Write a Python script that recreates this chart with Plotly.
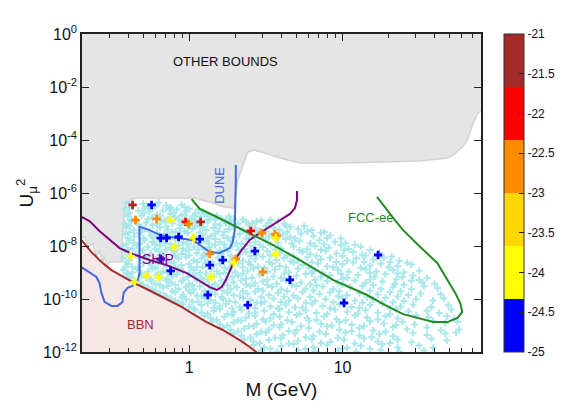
import numpy as np
import plotly.graph_objects as go

# ---------------- data (log10 M [GeV], log10 U^2) ----------------
gray_logM = [-0.75, 1.95, 1.95, 1.905, 1.879, 1.853, 1.814, 1.781, 1.722, 1.683, 1.507, 1.212, 0.984, 0.722,
             0.592, 0.493, 0.422, 0.382, 0.350, 0.317, 0.304, 0.291, 0.232, 0.154, 0.036, -0.324, -0.376,
             -0.408, -0.422, -0.435, -0.441, -0.520, -0.539, -0.552, -0.565, -0.585, -0.605, -0.631, -0.657,
             -0.683, -0.75]
gray_logU = [0.5, 0.5, -2.90, -2.90, -3.02, -3.36, -4.00, -4.26, -4.57, -4.68, -4.79, -4.83, -4.87, -4.87,
             -4.68, -4.49, -4.38, -4.45, -4.94, -5.51, -6.08, -6.57, -6.53, -6.38, -6.19, -6.19, -6.23,
             -6.42, -6.64, -7.58, -8.60, -8.60, -8.83, -8.34, -8.64, -8.15, -8.42, -7.89, -8.04,
             -7.66, -7.75]

bbn_logM = [-0.75, -0.703, -0.637, -0.572, -0.507, -0.441, -0.356, -0.265, -0.160, -0.049, 0.016, 0.114,
            0.219, 0.330, 0.395, 0.448, 0.47]
bbn_logU = [-7.60, -7.77, -8.23, -8.60, -8.91, -9.13, -9.40, -9.66, -9.96, -10.30, -10.53, -10.87,
            -11.17, -11.55, -11.81, -12.04, -12.15]

dune_logM = [-0.75, -0.703, -0.670, -0.605, -0.585, -0.572, -0.552, -0.507, -0.467, -0.435, -0.428, -0.402,
             -0.356, -0.337, -0.324, -0.324, -0.258, -0.193, -0.082, 0.023, 0.088, 0.134, 0.199, 0.265,
             0.284, 0.297, 0.304, 0.304]
dune_logU = [-8.62, -8.79, -8.91, -9.17, -9.40, -9.77, -10.11, -10.26, -10.26, -10.11, -9.77, -9.58,
             -9.47, -9.36, -9.02, -7.28, -7.40, -7.58, -7.70, -7.77, -8.04, -8.23, -8.26, -8.08,
             -7.85, -7.40, -5.51, -4.94]

ship_logM = [-0.75, -0.703, -0.650, -0.585, -0.520, -0.454, -0.369, -0.258, -0.147, -0.016, 0.069, 0.134,
             0.180, 0.212, 0.239, 0.265, 0.297, 0.343, 0.395, 0.461, 0.526, 0.611, 0.657, 0.690, 0.703, 0.703]
ship_logU = [-6.75, -6.91, -7.06, -7.43, -7.77, -8.08, -8.30, -8.53, -8.72, -9.02, -9.32, -9.55,
             -9.66, -9.55, -9.28, -8.91, -8.53, -8.15, -7.77, -7.51, -7.28, -6.98, -6.79, -6.57, -6.26, -5.92]

fcc_logM = [0.016, 0.069, 0.154, 0.284, 0.415, 0.546, 0.722, 0.938, 1.160, 1.278, 1.395, 1.507, 1.592,
            1.683, 1.748, 1.781, 1.768, 1.735, 1.683, 1.618, 1.507, 1.395, 1.330, 1.278, 1.225]
fcc_logU = [-6.23, -6.60, -6.83, -7.21, -7.58, -7.96, -8.53, -9.28, -9.85, -10.23, -10.57, -10.75, -10.87,
            -10.87, -10.72, -10.49, -10.15, -9.77, -9.28, -8.64, -8.04, -7.40, -6.94, -6.53, -6.15]

# coloured benchmark points: log10 M, log10 U^2, colour value
col_logM = [-0.369, -0.245, -0.350, -0.212, -0.121, -0.023, -0.003, 0.075, -0.186, -0.147, -0.069, 0.029,
            0.069, -0.095, -0.382, -0.186, -0.121, -0.278, -0.199, -0.356, 0.134, 0.219, 0.134, 0.304,
            0.291, 0.141, 0.121, 0.382, 0.402, 0.474, 0.559, 0.572, 0.565, 0.428, 0.565, 0.480, 0.657,
            1.232, 1.010]
col_logU = [-6.45, -6.45, -7.02, -6.98, -7.02, -7.09, -7.17, -7.09, -7.70, -7.70, -7.66, -7.70,
            -7.74, -8.04, -8.38, -8.49, -8.94, -9.13, -9.17, -9.36, -8.30, -8.53, -8.72, -8.49,
            -8.64, -9.17, -9.85, -10.23, -7.43, -7.51, -7.55, -7.62, -7.70, -8.19, -8.30, -8.98, -9.28,
            -8.34, -10.15]
col_val = [-21.3, -24.7, -22.7, -22.7, -24.0, -22.0, -22.7, -21.3, -24.7, -24.7, -24.7, -24.0,
           -24.7, -24.0, -24.0, -24.7, -24.7, -24.0, -24.0, -24.0, -22.7, -24.7, -24.7, -22.7,
           -24.0, -24.0, -24.7, -24.7, -22.0, -22.7, -22.7, -22.7, -24.0, -24.7, -24.0, -22.7, -24.7,
           -24.7, -24.7]

# scan points (cyan): (log10 M, log10 U^2)
cloud_pts = [
 (-0.41,-6.38),(-0.37,-6.50),(-0.30,-6.41),(-0.27,-6.52),(-0.20,-6.36),(-0.15,-6.47),(-0.12,-6.55),(-0.05,-6.44),(0.00,-6.60),
 (-0.42,-6.62),(-0.39,-6.74),(-0.33,-6.66),(-0.26,-6.71),(-0.24,-6.58),(-0.17,-6.67),(-0.10,-6.75),(-0.08,-6.62),(-0.02,-6.69),(0.04,-6.78),(0.09,-6.70),(0.13,-6.86),
 (-0.40,-6.88),(-0.35,-6.98),(-0.31,-6.85),(-0.24,-6.93),(-0.19,-6.87),(-0.14,-7.00),(-0.09,-6.91),(-0.03,-6.84),(0.01,-6.97),(0.07,-6.90),(0.12,-7.01),(0.14,-6.93),(0.21,-6.96),(0.24,-7.04),(0.29,-6.98),
 (-0.42,-7.15),(-0.38,-7.08),(-0.33,-7.20),(-0.28,-7.11),(-0.21,-7.17),(-0.18,-7.07),(-0.11,-7.14),(-0.06,-7.21),(-0.04,-7.09),(0.04,-7.13),(0.07,-7.22),(0.12,-7.10),(0.17,-7.18),(0.24,-7.13),(0.27,-7.05),(0.32,-7.17),(0.37,-7.08),(0.41,-7.15),(0.47,-7.03),(0.52,-7.12),(0.58,-7.07),(0.62,-7.16),
 (-0.41,-7.31),(-0.36,-7.41),(-0.29,-7.34),(-0.26,-7.44),(-0.19,-7.30),(-0.14,-7.38),(-0.09,-7.45),(-0.06,-7.33),(0.02,-7.36),(0.04,-7.27),(0.11,-7.41),(0.16,-7.32),(0.19,-7.44),(0.26,-7.37),(0.30,-7.28),(0.35,-7.40),(0.43,-7.33),(0.46,-7.43),(0.55,-7.30),(0.59,-7.39),(0.66,-7.27),(0.71,-7.36),(0.80,-7.41),
 (-0.42,-7.55),(-0.36,-7.64),(-0.33,-7.52),(-0.25,-7.60),(-0.23,-7.68),(-0.16,-7.56),(-0.13,-7.65),(-0.06,-7.59),(-0.01,-7.50),(0.03,-7.66),(0.09,-7.57),(0.14,-7.63),(0.17,-7.53),(0.22,-7.60),(0.29,-7.66),(0.33,-7.55),(0.41,-7.61),(0.45,-7.51),(0.52,-7.64),(0.61,-7.57),(0.66,-7.67),(0.73,-7.53),(0.81,-7.62),(0.86,-7.50),(0.92,-7.60),
 (-0.39,-7.78),(-0.36,-7.88),(-0.29,-7.76),(-0.24,-7.85),(-0.19,-7.81),(-0.16,-7.90),(-0.09,-7.75),(-0.04,-7.86),(0.01,-7.79),(0.06,-7.89),(0.10,-7.82),(0.17,-7.74),(0.20,-7.85),(0.27,-7.80),(0.31,-7.90),(0.39,-7.75),(0.43,-7.84),(0.50,-7.78),(0.58,-7.88),(0.63,-7.74),(0.72,-7.82),(0.79,-7.91),(0.85,-7.78),(0.95,-7.84),(1.02,-7.90),
 (-0.43,-8.00),(-0.37,-8.09),(-0.34,-7.97),(-0.27,-8.03),(-0.22,-8.11),(-0.19,-7.99),(-0.12,-8.06),(-0.07,-7.98),(-0.04,-8.10),(0.03,-8.02),(0.06,-8.12),(0.13,-8.04),(0.17,-7.96),(0.24,-8.08),(0.28,-8.00),(0.36,-8.11),(0.40,-7.98),(0.48,-8.05),(0.53,-7.96),(0.60,-8.09),(0.68,-8.02),(0.77,-8.12),(0.82,-7.99),(0.91,-8.07),(0.99,-7.97),(1.04,-8.10),(1.12,-8.03),
 (-0.42,-8.22),(-0.35,-8.31),(-0.32,-8.20),(-0.25,-8.28),(-0.20,-8.19),(-0.17,-8.33),(-0.10,-8.24),(-0.05,-8.30),(-0.02,-8.18),(0.05,-8.26),(0.09,-8.34),(0.14,-8.22),(0.21,-8.29),(0.25,-8.19),(0.33,-8.31),(0.37,-8.23),(0.44,-8.33),(0.51,-8.20),(0.59,-8.27),(0.64,-8.35),(0.74,-8.22),(0.79,-8.31),(0.89,-8.18),(0.96,-8.28),(1.07,-8.24),(1.13,-8.33),(1.24,-8.26),
 (-0.43,-8.45),(-0.39,-8.55),(-0.32,-8.47),(-0.29,-8.40),(-0.22,-8.52),(-0.17,-8.44),(-0.14,-8.56),(-0.07,-8.48),(-0.02,-8.41),(0.03,-8.54),(0.08,-8.46),(0.12,-8.57),(0.19,-8.43),(0.23,-8.51),(0.31,-8.44),(0.35,-8.55),(0.43,-8.49),(0.48,-8.41),(0.57,-8.53),(0.62,-8.45),(0.71,-8.56),(0.77,-8.42),(0.86,-8.50),(0.92,-8.43),(1.03,-8.55),(1.09,-8.46),(1.20,-8.52),(1.27,-8.43),(1.37,-8.56),
 (-0.40,-8.68),(-0.37,-8.78),(-0.30,-8.65),(-0.25,-8.74),(-0.20,-8.66),(-0.15,-8.77),(-0.12,-8.63),(-0.05,-8.72),(0.00,-8.68),(0.05,-8.79),(0.11,-8.64),(0.16,-8.73),(0.20,-8.66),(0.28,-8.76),(0.32,-8.65),(0.40,-8.71),(0.45,-8.78),(0.54,-8.67),(0.59,-8.75),(0.68,-8.63),(0.74,-8.72),(0.84,-8.66),(0.90,-8.77),(1.00,-8.69),(1.07,-8.62),(1.18,-8.74),(1.25,-8.67),(1.36,-8.75),(1.45,-8.70),
 (-0.43,-8.90),(-0.37,-8.99),(-0.34,-8.87),(-0.27,-8.96),(-0.24,-8.86),(-0.17,-8.93),(-0.14,-9.00),(-0.07,-8.88),(-0.04,-8.97),(0.03,-8.91),(0.07,-9.01),(0.14,-8.87),(0.18,-8.95),(0.26,-8.89),(0.30,-8.99),(0.38,-8.92),(0.42,-8.85),(0.51,-8.97),(0.56,-8.89),(0.65,-8.99),(0.71,-8.86),(0.81,-8.94),(0.87,-9.01),(0.97,-8.90),(1.04,-8.97),(1.15,-8.88),(1.22,-8.96),(1.33,-8.91),(1.40,-8.99),(1.50,-8.93),
 (-0.41,-9.08),(-0.38,-9.16),(-0.31,-9.12),(-0.28,-9.20),(-0.21,-9.09),(-0.18,-9.19),(-0.11,-9.13),(-0.08,-9.06),(-0.01,-9.17),(0.04,-9.10),(0.08,-9.21),(0.16,-9.14),(0.20,-9.07),(0.28,-9.18),(0.32,-9.11),(0.41,-9.20),(0.46,-9.08),(0.55,-9.15),(0.60,-9.22),(0.70,-9.12),(0.76,-9.06),(0.86,-9.18),(0.92,-9.10),(1.03,-9.19),(1.10,-9.09),(1.21,-9.16),(1.28,-9.07),(1.39,-9.17),(1.46,-9.11),(1.55,-9.20),
 (-0.35,-9.32),(-0.32,-9.40),(-0.25,-9.34),(-0.22,-9.42),(-0.15,-9.30),(-0.12,-9.39),(-0.05,-9.33),(0.00,-9.42),(0.05,-9.29),(0.09,-9.37),(0.17,-9.43),(0.21,-9.31),(0.29,-9.38),(0.34,-9.30),(0.43,-9.41),(0.48,-9.34),(0.57,-9.42),(0.63,-9.29),(0.73,-9.38),(0.79,-9.44),(0.90,-9.32),(0.97,-9.40),(1.08,-9.30),(1.15,-9.39),(1.26,-9.34),(1.34,-9.43),(1.45,-9.31),(1.52,-9.38),(1.60,-9.42),
 (-0.27,-9.55),(-0.24,-9.63),(-0.17,-9.57),(-0.14,-9.51),(-0.07,-9.62),(-0.02,-9.54),(0.03,-9.64),(0.07,-9.52),(0.15,-9.60),(0.19,-9.53),(0.27,-9.63),(0.31,-9.56),(0.40,-9.50),(0.45,-9.62),(0.54,-9.55),(0.60,-9.64),(0.70,-9.51),(0.76,-9.60),(0.87,-9.53),(0.94,-9.63),(1.05,-9.56),(1.13,-9.50),(1.25,-9.61),(1.33,-9.54),(1.45,-9.63),(1.53,-9.52),(1.62,-9.59),
 (-0.19,-9.78),(-0.16,-9.87),(-0.09,-9.75),(-0.04,-9.84),(0.01,-9.77),(0.05,-9.88),(0.13,-9.74),(0.17,-9.82),(0.25,-9.76),(0.29,-9.86),(0.38,-9.79),(0.43,-9.73),(0.52,-9.85),(0.58,-9.77),(0.68,-9.87),(0.74,-9.74),(0.85,-9.81),(0.92,-9.75),(1.03,-9.86),(1.11,-9.78),(1.23,-9.83),(1.31,-9.74),(1.43,-9.85),(1.51,-9.79),(1.64,-9.82),
 (-0.12,-9.98),(-0.09,-10.07),(-0.02,-10.01),(0.02,-10.09),(0.10,-9.97),(0.14,-10.05),(0.22,-10.00),(0.26,-10.08),(0.35,-9.96),(0.40,-10.04),(0.49,-10.10),(0.55,-9.98),(0.65,-10.06),(0.71,-9.97),(0.82,-10.08),(0.89,-10.01),(1.00,-9.95),(1.08,-10.07),(1.20,-10.02),(1.28,-9.96),(1.40,-10.08),(1.48,-10.00),(1.59,-10.06),(1.66,-9.98),
 (-0.04,-10.20),(0.00,-10.29),(0.08,-10.23),(0.12,-10.17),(0.20,-10.27),(0.24,-10.19),(0.33,-10.30),(0.38,-10.22),(0.47,-10.16),(0.53,-10.28),(0.63,-10.21),(0.69,-10.31),(0.80,-10.18),(0.87,-10.26),(0.98,-10.20),(1.06,-10.30),(1.18,-10.23),(1.26,-10.17),(1.38,-10.28),(1.46,-10.21),(1.58,-10.30),(1.69,-10.24),
 (0.04,-10.42),(0.08,-10.51),(0.16,-10.45),(0.20,-10.38),(0.29,-10.49),(0.34,-10.41),(0.43,-10.52),(0.49,-10.44),(0.59,-10.38),(0.65,-10.50),(0.76,-10.43),(0.83,-10.53),(0.95,-10.40),(1.03,-10.48),(1.15,-10.42),(1.23,-10.52),(1.35,-10.39),(1.43,-10.47),(1.55,-10.44),(1.63,-10.53),(1.71,-10.41),
 (0.10,-10.64),(0.14,-10.73),(0.23,-10.67),(0.28,-10.60),(0.37,-10.71),(0.43,-10.63),(0.53,-10.74),(0.59,-10.66),(0.70,-10.60),(0.77,-10.72),(0.88,-10.65),(0.96,-10.75),(1.08,-10.62),(1.16,-10.70),(1.28,-10.64),(1.36,-10.74),(1.48,-10.61),(1.56,-10.69),(1.68,-10.65),(1.73,-10.74),
 (0.15,-10.86),(0.20,-10.95),(0.29,-10.89),(0.34,-10.82),(0.44,-10.93),(0.50,-10.85),(0.60,-10.96),(0.67,-10.88),(0.78,-10.82),(0.86,-10.94),(0.98,-10.87),(1.06,-10.97),(1.18,-10.84),(1.27,-10.92),(1.39,-10.86),(1.47,-10.96),(1.59,-10.83),(1.67,-10.91),(1.75,-10.86),
 (0.22,-11.08),(0.27,-11.17),(0.36,-11.11),(0.42,-11.04),(0.52,-11.15),(0.59,-11.07),(0.70,-11.18),(0.78,-11.10),(0.90,-11.04),(0.98,-11.16),(1.11,-11.09),(1.20,-11.19),(1.33,-11.06),(1.42,-11.14),(1.55,-11.08),(1.64,-11.18),(1.76,-11.15),
 (0.29,-11.30),(0.34,-11.39),(0.44,-11.33),(0.50,-11.26),(0.61,-11.37),(0.69,-11.29),(0.81,-11.40),(0.89,-11.32),(1.02,-11.26),(1.11,-11.38),(1.24,-11.31),(1.33,-11.41),(1.46,-11.28),(1.55,-11.36),(1.67,-11.30),(1.74,-11.26),
 (0.36,-11.52),(0.42,-11.61),(0.52,-11.55),(0.60,-11.48),(0.71,-11.59),(0.80,-11.51),(0.92,-11.62),(1.01,-11.54),(1.14,-11.48),(1.23,-11.60),(1.36,-11.53),(1.45,-11.63),(1.58,-11.50),(1.68,-11.57),
 (0.42,-11.74),(0.49,-11.83),(0.60,-11.77),(0.68,-11.70),(0.81,-11.81),(0.90,-11.73),(1.03,-11.84),(1.12,-11.76),(1.26,-11.70),(1.36,-11.82),(1.50,-11.75),(1.59,-11.84),
 (0.47,-11.95),(0.57,-11.99),(0.71,-11.93),(0.82,-11.98),(0.97,-11.94),(1.09,-11.99),(1.25,-11.93),(1.37,-11.98),(1.53,-11.94),
 # in-between scan points
 (-0.39,-6.55),(-0.29,-6.58),(-0.22,-6.50),(-0.13,-6.60),(-0.03,-6.53),(0.06,-6.62),
 (-0.40,-6.80),(-0.30,-6.76),(-0.21,-6.82),(-0.12,-6.79),(-0.05,-6.83),(0.03,-6.86),(0.10,-6.80),(0.18,-6.86),(0.26,-6.88),
 (-0.38,-7.02),(-0.27,-6.99),(-0.16,-7.05),(-0.07,-7.00),(0.04,-7.04),(0.17,-7.01),(0.26,-7.10),(0.35,-7.00),(0.44,-7.08),(0.53,-7.02),
 (-0.39,-7.24),(-0.31,-7.27),(-0.24,-7.22),(-0.15,-7.26),(-0.01,-7.24),(0.09,-7.28),(0.20,-7.23),(0.29,-7.25),(0.39,-7.22),(0.50,-7.24),(0.63,-7.22),(0.75,-7.25),
 (-0.39,-7.49),(-0.31,-7.46),(-0.21,-7.50),(-0.11,-7.48),(-0.03,-7.45),(0.07,-7.49),(0.23,-7.47),(0.38,-7.48),(0.50,-7.46),(0.64,-7.47),(0.77,-7.45),(0.88,-7.47),
 (-0.40,-7.70),(-0.30,-7.72),(-0.20,-7.69),(-0.09,-7.71),(0.12,-7.72),(0.25,-7.70),(0.37,-7.72),(0.48,-7.69),(0.56,-7.71),(0.69,-7.72),(0.90,-7.70),(0.99,-7.72),
 (-0.41,-7.93),(-0.32,-7.91),(-0.22,-7.94),(-0.12,-7.92),(-0.01,-7.93),(0.13,-7.91),(0.23,-7.93),(0.34,-7.92),(0.46,-7.94),(0.67,-7.91),(0.88,-7.93),(1.08,-7.95),
 (-0.40,-8.14),(-0.30,-8.16),(-0.15,-8.13),(-0.09,-8.17),(0.00,-8.15),(0.10,-8.13),(0.20,-8.16),(0.32,-8.14),(0.44,-8.16),(0.56,-8.13),(0.72,-8.16),(0.86,-8.14),(1.01,-8.16),(1.18,-8.15),
 (-0.39,-8.37),(-0.27,-8.39),(-0.19,-8.36),(-0.09,-8.38),(0.00,-8.35),(0.10,-8.39),(0.27,-8.37),(0.40,-8.38),(0.53,-8.36),(0.68,-8.39),(0.83,-8.37),(1.00,-8.38),(1.15,-8.36),(1.32,-8.40),
 (-0.41,-8.60),(-0.26,-8.61),(-0.19,-8.58),(-0.10,-8.62),(0.05,-8.60),(0.15,-8.62),(0.27,-8.59),(0.39,-8.61),(0.52,-8.60),(0.66,-8.58),(0.80,-8.62),(0.96,-8.60),(1.14,-8.59),(1.31,-8.61),(1.42,-8.63),
 (-0.42,-8.81),(-0.33,-8.79),(-0.22,-8.83),(-0.09,-8.80),(0.01,-8.82),(0.09,-8.79),(0.23,-8.82),(0.35,-8.80),(0.49,-8.83),(0.63,-8.80),(0.78,-8.82),(0.94,-8.80),(1.12,-8.83),(1.30,-8.80),
 (-0.40,-9.02),(-0.31,-9.04),(-0.20,-9.02),(-0.10,-9.05),(0.00,-9.03),(0.11,-9.04),(0.23,-9.02),(0.35,-9.04),(0.48,-9.02),(0.62,-9.04),(0.80,-9.03),(0.99,-9.05),(1.18,-9.02),(1.36,-9.04),
 (-0.39,-9.24),(-0.25,-9.26),(-0.14,-9.24),(-0.04,-9.27),(0.12,-9.25),(0.24,-9.27),(0.37,-9.24),(0.51,-9.27),(0.66,-9.25),(0.82,-9.27),(1.00,-9.24),(1.18,-9.26),(1.35,-9.25),(1.50,-9.28),
 (-0.30,-9.46),(-0.19,-9.48),(-0.09,-9.46),(0.02,-9.48),(0.13,-9.46),(0.25,-9.48),(0.37,-9.45),(0.51,-9.47),(0.67,-9.46),(0.83,-9.48),(1.00,-9.46),(1.20,-9.47),(1.40,-9.46),
 (-0.22,-9.69),(-0.11,-9.71),(0.00,-9.68),(0.10,-9.70),(0.22,-9.68),(0.35,-9.71),(0.48,-9.69),(0.64,-9.70),(0.81,-9.68),(0.98,-9.71),(1.18,-9.69),(1.38,-9.71),
 (-0.15,-9.91),(-0.05,-9.93),(0.08,-9.90),(0.21,-9.92),(0.33,-9.90),(0.47,-9.93),(0.62,-9.91),(0.79,-9.92),(0.97,-9.90),(1.16,-9.93),(1.36,-9.91),
 (-0.07,-10.13),(0.06,-10.11),(0.17,-10.14),(0.30,-10.12),(0.44,-10.13),(0.60,-10.11),(0.76,-10.14),(0.94,-10.12),(1.13,-10.14),(1.33,-10.12),
 (0.03,-10.35),(0.16,-10.33),(0.28,-10.36),(0.43,-10.34),(0.58,-10.36),(0.74,-10.33),(0.92,-10.35),(1.11,-10.34),(1.31,-10.36),
 (0.12,-10.56),(0.25,-10.57),(0.39,-10.55),(0.55,-10.58),(0.72,-10.56),(0.90,-10.57),(1.10,-10.55),(1.31,-10.58),
 (0.18,-10.78),(0.32,-10.80),(0.48,-10.77),(0.64,-10.80),(0.83,-10.78),(1.02,-10.80),(1.23,-10.77),
 (0.25,-11.00),(0.39,-11.02),(0.55,-10.99),(0.73,-11.02),(0.93,-11.00),(1.14,-11.02),(1.35,-10.99),
 (0.32,-11.22),(0.47,-11.24),(0.65,-11.21),(0.85,-11.24),(1.06,-11.22),(1.28,-11.24),
 (0.40,-11.45),(0.56,-11.46),(0.76,-11.44),(0.97,-11.46),(1.19,-11.44),
 (0.46,-11.67),(0.65,-11.68),(0.86,-11.66),(1.08,-11.68),(1.31,-11.66),
 (0.53,-11.88),(0.76,-11.89),(1.00,-11.87),(1.18,-11.89),
]

x_major = [1, 10]
x_major_text = ["1", "10"]
x_minor = [0.2, 0.3, 0.4, 0.5, 0.6, 0.7, 0.8, 0.9, 2, 3, 4, 5, 6, 7, 8, 9, 20, 30, 40, 50, 60, 70, 80]
y_ticks = [1e0, 1e-2, 1e-4, 1e-6, 1e-8, 1e-10, 1e-12]
y_ticktext = ["10<sup>0</sup>", "10<sup>-2</sup>", "10<sup>-4</sup>", "10<sup>-6</sup>",
              "10<sup>-8</sup>", "10<sup>-10</sup>", "10<sup>-12</sup>"]
cb_ticks = [-25, -24.5, -24, -23.5, -23, -22.5, -22, -21.5, -21]
cb_ticktext = ["-25", "-24.5", "-24", "-23.5", "-23", "-22.5", "-22", "-21.5", "-21"]

# ---------------- figure ----------------
def p10(a):
    return (10.0 ** np.array(a)).tolist()

FONT = "Liberation Sans, Arial, Helvetica, sans-serif"
fig = go.Figure()

fig.add_trace(go.Scatter(x=p10(gray_logM), y=p10(gray_logU), mode="lines", fill="toself",
                         fillcolor="#e5e5e5", line=dict(color="#d2d2d2", width=1.5),
                         hoverinfo="skip", showlegend=False))

bbn_fx = bbn_logM + [0.47, -0.75]
bbn_fy = bbn_logU + [-12.5, -12.5]
fig.add_trace(go.Scatter(x=p10(bbn_fx), y=p10(bbn_fy), mode="lines", fill="toself",
                         fillcolor="#f6e7e7", line=dict(width=0), hoverinfo="skip", showlegend=False))

cm = [p[0] for p in cloud_pts]
cu = [p[1] for p in cloud_pts]
fig.add_trace(go.Scatter(x=p10(cm), y=p10(cu), mode="markers",
                         marker=dict(symbol="cross-thin", size=5, color="#a8e8ea",
                                     line=dict(width=2, color="#a8e8ea")),
                         hoverinfo="skip", showlegend=False))

for lx, ly, c in [(dune_logM, dune_logU, "#4169e1"), (ship_logM, ship_logU, "#800080"),
                  (fcc_logM, fcc_logU, "#228b22"), (bbn_logM, bbn_logU, "#a52a2a")]:
    fig.add_trace(go.Scatter(x=p10(lx), y=p10(ly), mode="lines", line=dict(color=c, width=2),
                             hoverinfo="skip", showlegend=False))

cs = [[0, "#0000ff"], [1/6, "#0000ff"], [1/6, "#ffff00"], [2/6, "#ffff00"],
      [2/6, "#ffd700"], [3/6, "#ffd700"], [3/6, "#ff8c00"], [4/6, "#ff8c00"],
      [4/6, "#ff0000"], [5/6, "#ff0000"], [5/6, "#a52a2a"], [1, "#a52a2a"]]

fig.add_trace(go.Scatter(
    x=p10(col_logM), y=p10(col_logU), mode="markers", showlegend=False, hoverinfo="skip",
    marker=dict(symbol="cross", size=7, color=col_val, colorscale=cs, cmin=-25, cmax=-21,
                line=dict(width=0), showscale=True,
                colorbar=dict(x=(496 - 74) / 399, xanchor="left", xpad=0, ypad=0,
                              y=0.5, yanchor="middle", len=1, lenmode="fraction",
                              thickness=20, outlinewidth=1, outlinecolor="#333",
                              tickvals=cb_ticks, ticktext=cb_ticktext, ticks="inside",
                              ticklen=5, tickcolor="#222",
                              tickfont=dict(size=12, color="#111", family=FONT)))))

ann_font = lambda c, s: dict(family=FONT, size=s, color=c)
fig.add_annotation(x=0.239, y=-1.02, xref="x", yref="y", text="OTHER BOUNDS", showarrow=False,
                   font=ann_font("#111", 13))
fig.add_annotation(x=0.193, y=-5.70, xref="x", yref="y", text="DUNE", showarrow=False,
                   textangle=-90, font=ann_font("#4169e1", 13))
fig.add_annotation(x=-0.206, y=-8.49, xref="x", yref="y", text="SHiP", showarrow=False,
                   font=ann_font("#800080", 14))
fig.add_annotation(x=1.186, y=-6.94, xref="x", yref="y", text="FCC-ee", showarrow=False,
                   font=ann_font("#228b22", 13))
fig.add_annotation(x=-0.317, y=-10.98, xref="x", yref="y", text="BBN", showarrow=False,
                   font=ann_font("#a52a2a", 13))

# page body adds an 8px offset, so the figure is 8px smaller than the window
fig.update_layout(
    width=576, height=401,
    margin=dict(l=74, r=103, t=26, b=57),
    paper_bgcolor="white", plot_bgcolor="white",
    font=dict(family=FONT, color="#111"),
    xaxis=dict(type="log", range=[np.log10(0.2), np.log10(80)], automargin=False,
               tickmode="array", tickvals=x_major, ticktext=x_major_text,
               ticks="inside", ticklen=7, tickwidth=1, tickcolor="#222",
               minor=dict(tickmode="array", tickvals=x_minor, ticks="inside", ticklen=4,
                          tickcolor="#222", showgrid=False),
               showline=True, linecolor="#222", linewidth=1.5, mirror="ticks",
               showgrid=False, zeroline=False, tickfont=dict(size=16),
               title=dict(text="M (GeV)", font=dict(size=19), standoff=8)),
    yaxis=dict(type="log", range=[-12, 0], automargin=False,
               tickmode="array", tickvals=y_ticks, ticktext=y_ticktext,
               ticks="inside", ticklen=7, tickwidth=1, tickcolor="#222",
               showline=True, linecolor="#222", linewidth=1.5, mirror="ticks",
               showgrid=False, zeroline=False, tickfont=dict(size=16),
               title=dict(text="U<sub>μ</sub><sup>2</sup>", font=dict(size=19), standoff=4)),
)

fig.write_html("out.html")
